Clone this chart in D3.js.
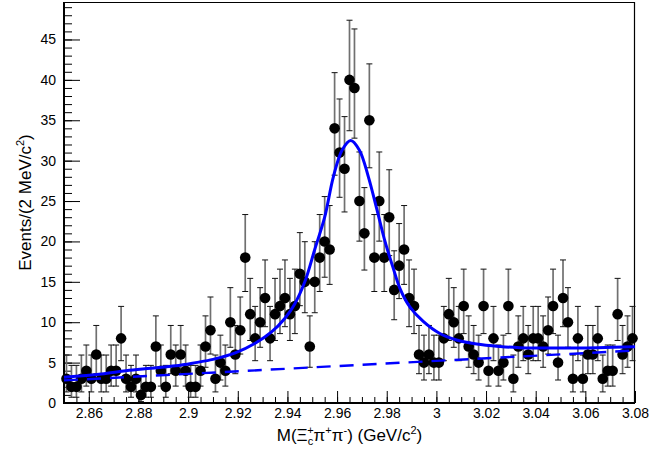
<!DOCTYPE html>
<html>
<head>
<meta charset="utf-8">
<script src="https://cdn.jsdelivr.net/npm/d3@7"></script>
<style>
  body { margin: 0; background: #fff; }
  svg { display: block; font-family: 'Liberation Sans', Arial, Helvetica, sans-serif; }
</style>
</head>
<body>
<div id="chart"></div>
<script>
// histogram: 2 MeV bins from 2.85 to 3.08 GeV
const binStart = 2.85
const binWidth = 0.002
const counts = [
  3, 2, 2, 3, 4, 3, 6, 3, 3, 4,
  4, 8, 3, 2, 3, 1, 2, 2, 7, 4,
  2, 6, 4, 6, 4, 2, 2, 4, 7, 9,
  3, 5, 4, 10, 6, 9, 18, 11, 8, 10,
  13, 8, 11, 12, 13, 11, 12, 16, 15, 7,
  15, 18, 20, 19, 34, 31, 29, 40, 39, 25,
  21, 35, 18, 25, 18, 23, 14, 17, 19, 13,
  12, 6, 5, 6, 5, 5, 8, 11, 10, 8,
  12, 7, 6, 5, 12, 4, 8, 4, 5, 12,
  3, 7, 8, 6, 8, 8, 7, 9, 12, 5,
  13, 10, 3, 8, 3, 6, 6, 8, 3, 4,
  4, 11, 6, 7, 8
]

// fit curve (signal + background)
const fitX = [2.850, 2.865, 2.875, 2.885, 2.895, 2.903, 2.910, 2.919, 2.927, 2.9336,
  2.939, 2.943, 2.947, 2.951, 2.955, 2.9585, 2.962, 2.9655, 2.969, 2.9726,
  2.976, 2.9793, 2.9826, 2.9853, 2.9893, 2.9947, 3.0014, 3.0081, 3.0162, 3.0256,
  3.0336, 3.050, 3.065, 3.080]
const fitY = [3.2, 3.6, 4.0, 4.3, 4.6, 5.0, 5.4, 6.2, 7.4, 8.8,
  10.5, 12.3, 15.0, 19.0, 23.0, 28.0, 31.3, 32.5, 31.3, 28.0,
  24.0, 20.0, 16.7, 14.2, 11.9, 10.1, 8.6, 7.8, 7.3, 7.0,
  6.85, 6.8, 6.85, 6.95]

// background component
const bkgX = [2.85, 3.08]
const bkgY = [2.8, 6.5]

const xMajorTicks = [2.86, 2.88, 2.9, 2.92, 2.94, 2.96, 2.98, 3.0, 3.02, 3.04, 3.06, 3.08]
const yMajorTicks = [0, 5, 10, 15, 20, 25, 30, 35, 40, 45]

const width = 667
const height = 453
const margin = { top: 2, right: 32, bottom: 50, left: 64 }
const yMax = 49.64

const svg = d3.select('#chart')
  .append('svg')
  .attr('width', width)
  .attr('height', height)

const xScale = d3.scaleLinear()
  .domain([binStart, binStart + binWidth * counts.length])
  .range([margin.left, width - margin.right])
const yScale = d3.scaleLinear()
  .domain([0, yMax])
  .range([height - margin.bottom, margin.top])

const x0 = margin.left
const x1 = width - margin.right
const y0 = height - margin.bottom
const y1 = margin.top

// minor / major ticks, pointing into the frame
const xMinor = d3.range(0, 47).map(i => +(binStart + i * 0.005).toFixed(3))
svg.append('g')
  .attr('class', 'axisX-minor')
  .attr('transform', `translate(0, ${y0})`)
  .call(d3.axisBottom(xScale).tickValues(xMinor).tickSize(-6).tickFormat(''))
svg.append('g')
  .attr('class', 'axisX')
  .attr('transform', `translate(0, ${y0})`)
  .call(d3.axisBottom(xScale).tickValues(xMajorTicks).tickSize(-12).tickPadding(5)
    .tickFormat(d => String(+d.toFixed(2))))

const yMinor = d3.range(0, 50)
svg.append('g')
  .attr('class', 'axisY-minor')
  .attr('transform', `translate(${x0}, 0)`)
  .call(d3.axisLeft(yScale).tickValues(yMinor).tickSize(-8).tickFormat(''))
svg.append('g')
  .attr('class', 'axisY')
  .attr('transform', `translate(${x0}, 0)`)
  .call(d3.axisLeft(yScale).tickValues(yMajorTicks).tickSize(-16).tickPadding(8))

svg.selectAll('.domain').remove()
svg.selectAll('.tick line').attr('stroke', '#000').attr('stroke-width', 1)
svg.selectAll('.tick text').attr('fill', '#000').style('font-size', '14px')

// frame
svg.append('line').attr('x1', x0).attr('x2', x1).attr('y1', y1 + 0.5).attr('y2', y1 + 0.5)
  .attr('stroke', '#000').attr('stroke-width', 1)
svg.append('line').attr('x1', x1 - 0.5).attr('x2', x1 - 0.5).attr('y1', y1).attr('y2', y0)
  .attr('stroke', '#000').attr('stroke-width', 1.2)
svg.append('line').attr('x1', x0).attr('x2', x1).attr('y1', y0).attr('y2', y0)
  .attr('stroke', '#000').attr('stroke-width', 2)
svg.append('line').attr('x1', x0).attr('x2', x0).attr('y1', y1).attr('y2', y0 + 1)
  .attr('stroke', '#000').attr('stroke-width', 2)

// data points with Poisson errors
const points = counts.map((n, i) => {
  const lo = n * Math.pow(1 - 1 / (9 * n) - 1 / (3 * Math.sqrt(n)), 3)
  const hi = n + 1 + Math.sqrt(n + 0.75)
  return { x: binStart + binWidth * (i + 0.5), n, lo, hi }
})

const data = svg.append('g').attr('class', 'data')
data.selectAll('line.err')
  .data(points)
  .join('line')
  .attr('class', 'err')
  .attr('x1', d => xScale(d.x))
  .attr('x2', d => xScale(d.x))
  .attr('y1', d => yScale(d.lo))
  .attr('y2', d => yScale(Math.min(d.hi, yMax)))
  .attr('stroke', '#707070')
  .attr('stroke-width', 1.7)
data.selectAll('path.cap')
  .data(points)
  .join('path')
  .attr('class', 'cap')
  .attr('d', d => {
    const cx = xScale(d.x)
    return `M${cx - 3},${yScale(d.lo)}H${cx + 3}M${cx - 3},${yScale(d.hi)}H${cx + 3}`
  })
  .attr('stroke', '#111')
  .attr('stroke-width', 1)
data.selectAll('circle')
  .data(points)
  .join('circle')
  .attr('cx', d => xScale(d.x))
  .attr('cy', d => yScale(d.n))
  .attr('r', 5.3)
  .attr('fill', '#000')

// fit curves
const bkgLine = d3.line()
  .x((d, i) => xScale(bkgX[i]))
  .y(d => yScale(d))
svg.append('path')
  .attr('d', bkgLine(bkgY))
  .attr('fill', 'none')
  .attr('stroke', '#0000ff')
  .attr('stroke-width', 2.4)
  .attr('stroke-dasharray', '14,9')

const fitLine = d3.line()
  .x((d, i) => xScale(fitX[i]))
  .y(d => yScale(d))
  .curve(d3.curveCatmullRom.alpha(0.5))
svg.append('path')
  .attr('d', fitLine(fitY))
  .attr('fill', 'none')
  .attr('stroke', '#0000ff')
  .attr('stroke-width', 3)

// axis titles
const xt = svg.append('text')
  .attr('x', (x0 + x1) / 2)
  .attr('y', 441)
  .attr('text-anchor', 'middle')
  .style('font-size', '17px')
xt.append('tspan').text('M(Ξ')
xt.append('tspan').text('c').attr('dy', 4).style('font-size', '11px')
xt.append('tspan').text('+').attr('dx', -6).attr('dy', -11).style('font-size', '11px')
xt.append('tspan').text('π').attr('dy', 7)
xt.append('tspan').text('+').attr('dy', -7).style('font-size', '11px')
xt.append('tspan').text('π').attr('dy', 7)
xt.append('tspan').text('-').attr('dy', -7).style('font-size', '11px')
xt.append('tspan').text(') (GeV/c').attr('dy', 7)
xt.append('tspan').text('2').attr('dy', -7).style('font-size', '11px')
xt.append('tspan').text(')').attr('dy', 7)

const yt = svg.append('text')
  .attr('transform', `translate(31, ${(y0 + y1) / 2}) rotate(-90)`)
  .attr('text-anchor', 'middle')
  .style('font-size', '17px')
yt.append('tspan').text('Events/(2 MeV/c')
yt.append('tspan').text('2').attr('dy', -7).style('font-size', '11px')
yt.append('tspan').text(')').attr('dy', 7)
</script>
</body>
</html>
